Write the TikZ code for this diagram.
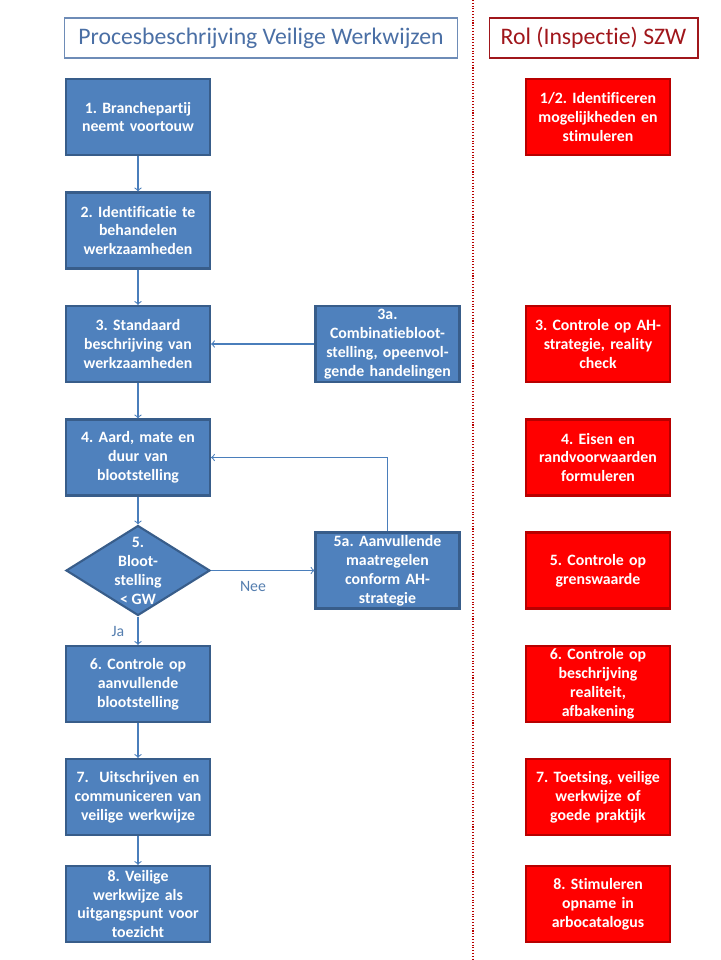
\documentclass[tikz,border=0pt]{standalone}
\usepackage{fontspec}
\setmainfont[Ligatures=NoCommon]{Carlito}
\usetikzlibrary{shapes.geometric}
\definecolor{boxblue}{HTML}{4F81BD}
\definecolor{edgeblue}{HTML}{385D8A}
\definecolor{lineblue}{HTML}{4A7EBB}
\definecolor{titleblue}{HTML}{4A6FA5}
\definecolor{szwred}{HTML}{A0161B}
\definecolor{boxred}{HTML}{FF0000}
\definecolor{edgered}{HTML}{B80000}
\frenchspacing
\begin{document}
\begin{tikzpicture}[x=0.02cm,y=-0.02cm,
  stap/.style={draw=edgeblue,fill=boxblue,line width=1.2pt,minimum width=2.88cm,minimum height=1.52cm,
    inner sep=1pt,text width=2.7cm,align=center,text=white,font=\fontsize{9}{10.8}\selectfont\bfseries},
  rol/.style={stap,draw=edgered,fill=boxred},
  kop/.style={draw,line width=0.6pt,minimum height=0.8cm,inner sep=0pt,font=\fontsize{13.5}{15}\selectfont},
  pijl/.style={->,draw=lineblue,line width=0.6pt},
  tekst/.style={text=lineblue!80!gray,font=\fontsize{9}{10.8}\selectfont}]
\useasboundingbox (0,0) rectangle (720,960);
% kopjes
\node[kop,draw=titleblue!80,text=titleblue,minimum width=7.88cm] (titel) at (261,38) {Procesbeschrijving Veilige Werkwijzen};
\node[kop,draw=szwred,text=szwred,minimum width=4.18cm] (szw) at (593.5,38) {Rol (Inspectie) SZW};
\draw[edgered,densely dotted,line width=0.6pt] (473,0) -- (473,960);
% processtappen
\node[stap] (s1) at (138,117) {1. Branchepartij\\neemt voortouw};
\node[stap] (s2) at (138,230.5) {2. Identificatie te\\behandelen\\werkzaamheden};
\node[stap] (s3) at (138,344) {3. Standaard\\beschrijving van\\werkzaamheden};
\node[stap] (s3a) at (387.5,344) {3a.\\Combinatiebloot-\\stelling, opeenvol-\\gende handelingen};
\node[stap] (s4) at (138,457.5) {4. Aard, mate en\\duur van\\blootstelling};
\node[diamond,draw=edgeblue,fill=boxblue,line width=1.2pt,minimum width=2.88cm,minimum height=1.8cm,inner sep=0pt] (s5) at (138,570.5) {};
\node[align=center,text=white,font=\fontsize{9}{10.8}\selectfont\bfseries] (s5t) at (s5) {5.\\Bloot-\\stelling\\< GW};
\node[stap] (s5a) at (387.5,570.5) {5a. Aanvullende\\maatregelen\\conform AH-\\strategie};
\node[stap] (s6) at (138,684) {6. Controle op\\aanvullende\\blootstelling};
\node[stap] (s7) at (138,797) {7.~~Uitschrijven en\\communiceren van\\veilige werkwijze};
\node[stap] (s8) at (138,904) {8. Veilige\\werkwijze als\\uitgangspunt voor\\toezicht};
% rol SZW
\node[rol] (r1) at (598,117) {1/2. Identificeren\\mogelijkheden en\\stimuleren};
\node[rol] (r3) at (598,344) {3. Controle op AH-\\strategie, reality\\check};
\node[rol] (r4) at (598,457.5) {4. Eisen en\\randvoorwaarden\\formuleren};
\node[rol] (r5) at (598,570.5) {5. Controle op\\grenswaarde};
\node[rol] (r6) at (598,684) {6. Controle op\\beschrijving\\realiteit,\\afbakening};
\node[rol] (r7) at (598,797) {7. Toetsing, veilige\\werkwijze of\\goede praktijk};
\node[rol] (r8) at (598,904) {8. Stimuleren\\opname in\\arbocatalogus};
% pijlen
\draw[pijl] (s1) -- (s2);
\draw[pijl] (s2) -- (s3);
\draw[pijl] (s3a) -- (s3);
\draw[pijl] (s3) -- (s4);
\draw[pijl] (s4) -- (s5);
\draw[pijl] (s5a.north) |- (s4.east);
\draw[pijl] (s5.east) -- (s5a.west);
\draw[pijl] (s5) -- (s6);
\draw[pijl] (s6) -- (s7);
\draw[pijl] (s7) -- (s8);
\node[tekst] (nee) at (253,586) {Nee};
\node[tekst] (ja) at (118,631) {Ja};
\end{tikzpicture}
\end{document}
